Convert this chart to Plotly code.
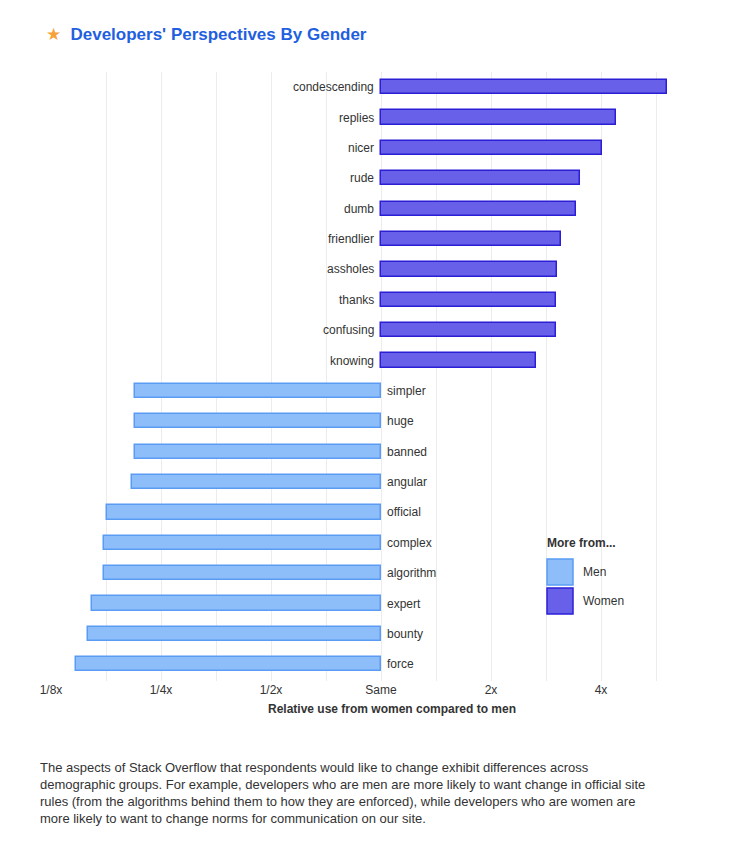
import numpy as np
import plotly.graph_objects as go

women_words = ["condescending","replies","nicer","rude","dumb","friendlier","assholes","thanks","confusing","knowing"]
women_ratio = [6.06, 4.41, 4.03, 3.50, 3.41, 3.10, 3.03, 3.01, 3.01, 2.65]
men_words = ["simpler","huge","banned","angular","official","complex","algorithm","expert","bounty","force"]
men_ratio = [0.212, 0.212, 0.212, 0.208, 0.178, 0.175, 0.175, 0.162, 0.158, 0.146]
tick_vals = [0.125, 0.25, 0.5, 1, 2, 4]
tick_text = ["1/8x", "1/4x", "1/2x", "Same", "2x", "4x"]

words = women_words + men_words
ypos = list(range(len(words)))[::-1]
wl = np.log2(women_ratio)
ml = np.log2(men_ratio)
yw = ypos[:10]; ym = ypos[10:]

fig = go.Figure()
fig.add_bar(y=ym, x=ml, orientation="h", width=0.47,
            marker=dict(color="#8ebefa", line=dict(color="#5a9cf3", width=1.5)), showlegend=False)
fig.add_bar(y=yw, x=wl, orientation="h", width=0.47,
            marker=dict(color="#6860e8", line=dict(color="#2b1fd6", width=1.5)), showlegend=False)

for w, y in zip(women_words, yw):
    fig.add_annotation(x=0, y=y, text=w, showarrow=False, xanchor="right", xshift=-5,
                       font=dict(size=12, color="#333"))
for w, y in zip(men_words, ym):
    fig.add_annotation(x=0, y=y, text=w, showarrow=False, xanchor="left", xshift=4,
                       font=dict(size=12, color="#333"))

minor = [v + 0.5 for v in range(-3, 3)]
fig.update_layout(
    width=749, height=857, paper_bgcolor="white", plot_bgcolor="white",
    margin=dict(l=43, r=24, t=64, b=184),
    font=dict(family="Liberation Sans, Arial, sans-serif", size=12, color="#333"),
    xaxis=dict(range=[-3, 3.2], tickvals=np.log2(tick_vals), ticktext=tick_text,
               showgrid=True, gridcolor="#ececec", zeroline=False, ticks="",
               minor=dict(tickvals=minor, showgrid=True, gridcolor="#ececec"),
               title=dict(text="<b>Relative use from women compared to men</b>", font=dict(size=12), standoff=8),
               tickfont=dict(size=12, color="#333")),
    yaxis=dict(range=[-0.55, 19.5], showticklabels=False, showgrid=False, zeroline=False),
    bargap=0,
)
fig.add_annotation(xref="paper", yref="paper", x=-0.01, y=1.0, yshift=38, xanchor="left", yanchor="middle",
                   text="<span style='color:#f5a23a'>★</span>  <b>Developers' Perspectives By Gender</b>",
                   showarrow=False, font=dict(size=17, color="#1f5fe0"))
# legend
fig.add_annotation(xref="paper", yref="paper", x=(537-43)/682, y=(673-535)/609, xanchor="left", yanchor="middle",
                   text="<b>More from...</b>", showarrow=False, font=dict(size=12, color="#333"))
for i, (lab, fc, lc) in enumerate([("Men", "#8ebefa", "#5a9cf3"), ("Women", "#6860e8", "#2b1fd6")]):
    yc = 564 + i * 29
    fig.add_shape(type="rect", xref="paper", yref="paper",
                  x0=(539-43)/682, x1=(565-43)/682, y0=(673-yc-13)/609, y1=(673-yc+13)/609,
                  fillcolor=fc, line=dict(color=lc, width=1.5))
    fig.add_annotation(xref="paper", yref="paper", x=(573-43)/682, y=(673-yc)/609, xanchor="left",
                       yanchor="middle", text=lab, showarrow=False, font=dict(size=12, color="#333"))
fig.add_annotation(xref="paper", yref="paper", x=-(13/682), y=(673-750)/609, xanchor="left", yanchor="top",
                   align="left", showarrow=False, font=dict(size=13, color="#333"),
                   text="The aspects of Stack Overflow that respondents would like to change exhibit differences across<br>"
                        "demographic groups. For example, developers who are men are more likely to want change in official site<br>"
                        "rules (from the algorithms behind them to how they are enforced), while developers who are women are<br>"
                        "more likely to want to change norms for communication on our site.")
fig.write_html("out.html")
